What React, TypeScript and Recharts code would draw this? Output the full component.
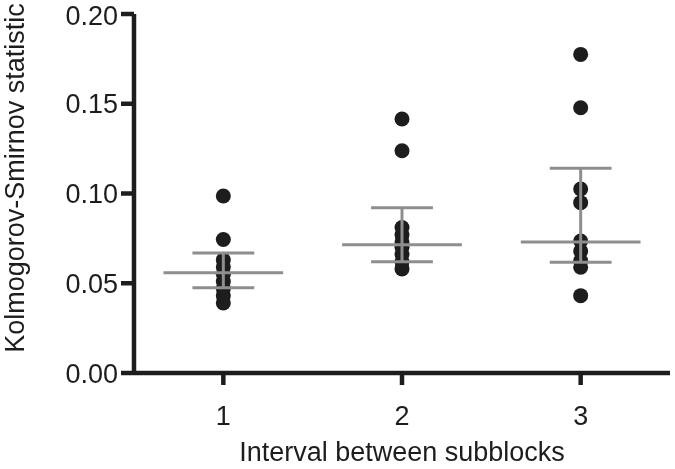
import React from 'react';
import { ScatterChart, Scatter, XAxis, YAxis, ReferenceLine } from 'recharts';

const groups = [1, 2, 3];
const ksGroup1 = [0.0986, 0.0744, 0.063, 0.059, 0.055, 0.051, 0.047, 0.043, 0.039];
const ksGroup2 = [0.1415, 0.1238, 0.081, 0.077, 0.073, 0.07, 0.066, 0.062, 0.058];
const ksGroup3 = [0.1775, 0.1478, 0.1025, 0.0949, 0.0735, 0.068, 0.0625, 0.0589, 0.0431];
const medians = [0.0559, 0.0715, 0.073];
const q1 = [0.0475, 0.062, 0.0617];
const q3 = [0.0669, 0.0921, 0.114];
const yTicks = [0, 0.05, 0.1, 0.15, 0.2];

const points = [ksGroup1, ksGroup2, ksGroup3].flatMap((vals, i) =>
  vals.map((v) => ({ x: groups[i], y: v }))
);

const INK = '#1f1c1d';
const GREY = '#8e8e8e';
const FONT = '"Liberation Sans", Arial, sans-serif';
const MED_HALF = 0.335; // half width of median bar, in category units
const Q_HALF = 0.173;
const axisStyle = { stroke: INK, strokeWidth: 4.5 };

const Dot = (p: any) => <circle cx={p.cx} cy={p.cy} r={7.5} fill={INK} />;

export default function App() {
  return (
    <div style={{ position: 'fixed', left: 0, top: 0, fontFamily: FONT }}>
      <ScatterChart width={675} height={469} margin={{ top: 14, right: 5, bottom: 0, left: 0 }}>
        <XAxis
          type="number"
          dataKey="x"
          domain={[0.5, 3.5]}
          ticks={groups}
          allowDataOverflow
          height={96}
          axisLine={axisStyle}
          tickLine={axisStyle}
          tickSize={12}
          tickMargin={21}
          tick={{ fill: INK, fontSize: 27, fontFamily: FONT }}
          label={{
            content: (props: any) => {
              const vb = props.viewBox;
              return (
                <text x={vb.x + vb.width / 2} y={461} textAnchor="middle" fill={INK} fontSize={27} fontFamily={FONT}>
                  Interval between subblocks
                </text>
              );
            },
          }}
        />
        <YAxis
          type="number"
          dataKey="y"
          domain={[0, 0.2]}
          ticks={yTicks}
          width={134}
          axisLine={axisStyle}
          tickLine={axisStyle}
          tickSize={13}
          tickMargin={3}
          tickFormatter={(v: number) => v.toFixed(2)}
          tick={{ fill: INK, fontSize: 27, fontFamily: FONT }}
          label={{
            content: () => {
              const cy = 178;
              return (
                <text x={24} y={cy} transform={`rotate(-90, 24, ${cy})`} textAnchor="middle" fill={INK} fontSize={27} fontFamily={FONT}>
                  Kolmogorov-Smirnov statistic
                </text>
              );
            },
          }}
        />
        <Scatter data={points} shape={Dot} isAnimationActive={false} />
        {groups.map((g, i) => (
          <React.Fragment key={g}>
            <ReferenceLine segment={[{ x: g, y: q1[i] }, { x: g, y: q3[i] }]} stroke={GREY} strokeWidth={3} zIndex={700} />
            <ReferenceLine segment={[{ x: g - Q_HALF, y: q1[i] }, { x: g + Q_HALF, y: q1[i] }]} stroke={GREY} strokeWidth={3} zIndex={700} />
            <ReferenceLine segment={[{ x: g - Q_HALF, y: q3[i] }, { x: g + Q_HALF, y: q3[i] }]} stroke={GREY} strokeWidth={3} zIndex={700} />
            <ReferenceLine segment={[{ x: g - MED_HALF, y: medians[i] }, { x: g + MED_HALF, y: medians[i] }]} stroke={GREY} strokeWidth={3} zIndex={700} />
          </React.Fragment>
        ))}
      </ScatterChart>
    </div>
  );
}
